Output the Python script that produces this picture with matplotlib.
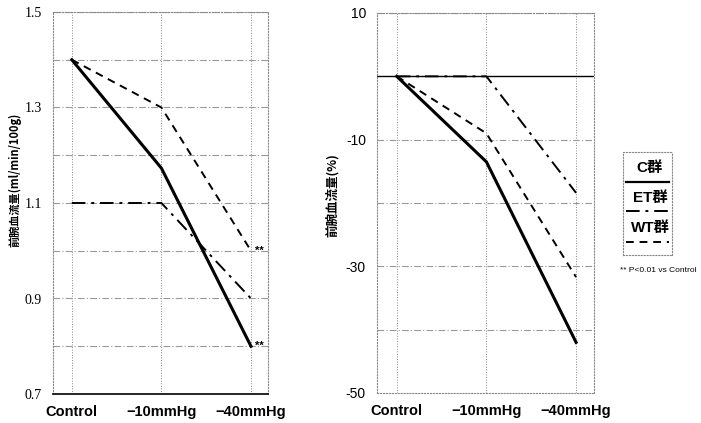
import matplotlib.pyplot as plt

plt.rcParams['font.family'] = ['Liberation Sans', 'Noto Sans CJK JP']

# ─── data ─────────────────────────────────────────────────────────────
categories = ["Control", "\u221210mmHg", "\u221240mmHg"]

# absolute forearm blood flow (ml/min/100g)
abs_c = [1.40, 1.173, 0.80]
abs_et = [1.10, 1.10, 0.90]
abs_wt = [1.40, 1.30, 1.00]

# percent change (%)
pct_c = [0.0, -13.5, -42.0]
pct_et = [0.0, 0.0, -18.4]
pct_wt = [0.0, -9.0, -31.7]

left_ticks = [0.7, 0.9, 1.1, 1.3, 1.5]
left_grid = [0.8, 0.9, 1.0, 1.1, 1.2, 1.3, 1.4, 1.5]
right_ticks = [-50, -30, -10, 10]
right_grid = [-40, -30, -20, -10, 10]

grid_kw = dict(color="#999999", lw=0.8, ls=(0, (6, 2, 1, 2)), zorder=1)
styles = {
    "C": dict(color="black", lw=2.2, ls="-"),
    "ET": dict(color="black", lw=1.4, ls=(0, (7, 3, 1.5, 3))),
    "WT": dict(color="black", lw=1.4, ls=(0, (4, 3))),
}

fig = plt.figure(figsize=(7.01, 4.23), dpi=100)
ax1 = fig.add_axes([53 / 701, 1 - 394 / 423, 215 / 701, 382 / 423])
ax2 = fig.add_axes([377 / 701, 1 - 393 / 423, 217 / 701, 380 / 423])

x = list(range(len(categories)))


def frame(ax):
    for s in ax.spines.values():
        s.set_color("#888888")
        s.set_linestyle(":")
        s.set_linewidth(0.8)
    for xi in x:
        ax.axvline(xi, color="#888888", lw=0.7, ls=":", zorder=1)
    ax.set_xticks(x)
    ax.set_xticklabels(categories, fontweight="bold", fontsize=10.5)
    ax.tick_params(length=0, pad=8)


# ─── left panel ───────────────────────────────────────────────────────
frame(ax1)
for g in left_grid:
    ax1.axhline(g, **grid_kw)
ax1.spines["bottom"].set_color("black")
ax1.spines["bottom"].set_linestyle("-")
ax1.spines["bottom"].set_linewidth(1.2)
ax1.plot(x, abs_c, zorder=3, **styles["C"])
ax1.plot(x, abs_et, zorder=3, **styles["ET"])
ax1.plot(x, abs_wt, zorder=3, **styles["WT"])
ax1.text(x[2] + 0.05, abs_c[2], "**", ha="left", va="center", fontsize=8, fontweight="bold")
ax1.text(x[2] + 0.05, abs_wt[2], "**", ha="left", va="center", fontsize=8, fontweight="bold")
ax1.set_xlim(-0.21, 2.19)
ax1.set_ylim(0.7, 1.5)
ax1.set_yticks(left_ticks)
ax1.set_yticklabels([f"{t:.1f}" for t in left_ticks], family="Liberation Serif", fontsize=10)
ax1.set_ylabel("前腕血流量(ml/min/100g)", family=["Noto Sans CJK JP"], fontweight="bold",
               fontsize=8)
ax1.yaxis.set_label_coords(-32 / 215, 0.56)

# ─── right panel ──────────────────────────────────────────────────────
frame(ax2)
for g in right_grid:
    ax2.axhline(g, **grid_kw)
ax2.axhline(0, color="black", lw=1.0, zorder=2)
ax2.plot(x, pct_c, zorder=3, **styles["C"])
ax2.plot(x, pct_et, zorder=3, **styles["ET"])
ax2.plot(x, pct_wt, zorder=3, **styles["WT"])
ax2.set_xlim(-0.22, 2.2)
ax2.set_ylim(-50, 10)
ax2.set_yticks(right_ticks)
ax2.set_yticklabels([str(t) for t in right_ticks], fontsize=10)
ax2.set_ylabel("前腕血流量(%)", family=["Noto Sans CJK JP"], fontweight="bold",
               fontsize=9)
ax2.yaxis.set_label_coords(-38 / 217, 0.52)

# legend drawn by hand in figure coordinates
lax = fig.add_axes([623 / 701, 1 - 255 / 423, 49 / 701, 103 / 423])
lax.set_xlim(0, 1)
lax.set_ylim(0, 1)
lax.set_xticks([])
lax.set_yticks([])
for s in lax.spines.values():
    s.set_color("#888888")
    s.set_linestyle(":")
    s.set_linewidth(0.8)
names = ["C群", "ET群", "WT群"]
keys = ["C", "ET", "WT"]
text_y = [0.84, 0.55, 0.26]
line_y = [0.71, 0.43, 0.13]
for n, k, ty, ly in zip(names, keys, text_y, line_y):
    lax.text(0.55, ty, n, ha="center", va="center", fontsize=11, fontweight="bold",
             family=["Liberation Sans", "Noto Sans CJK JP"])
    st = dict(styles[k])
    st["lw"] = min(st["lw"], 1.6)
    lax.plot([0.06, 0.94], [ly, ly], **st)

fig.text(620 / 701, 1 - 270 / 423, "** P<0.01 vs Control", fontsize=6, va="center")

fig.savefig("out.png", dpi=100)
